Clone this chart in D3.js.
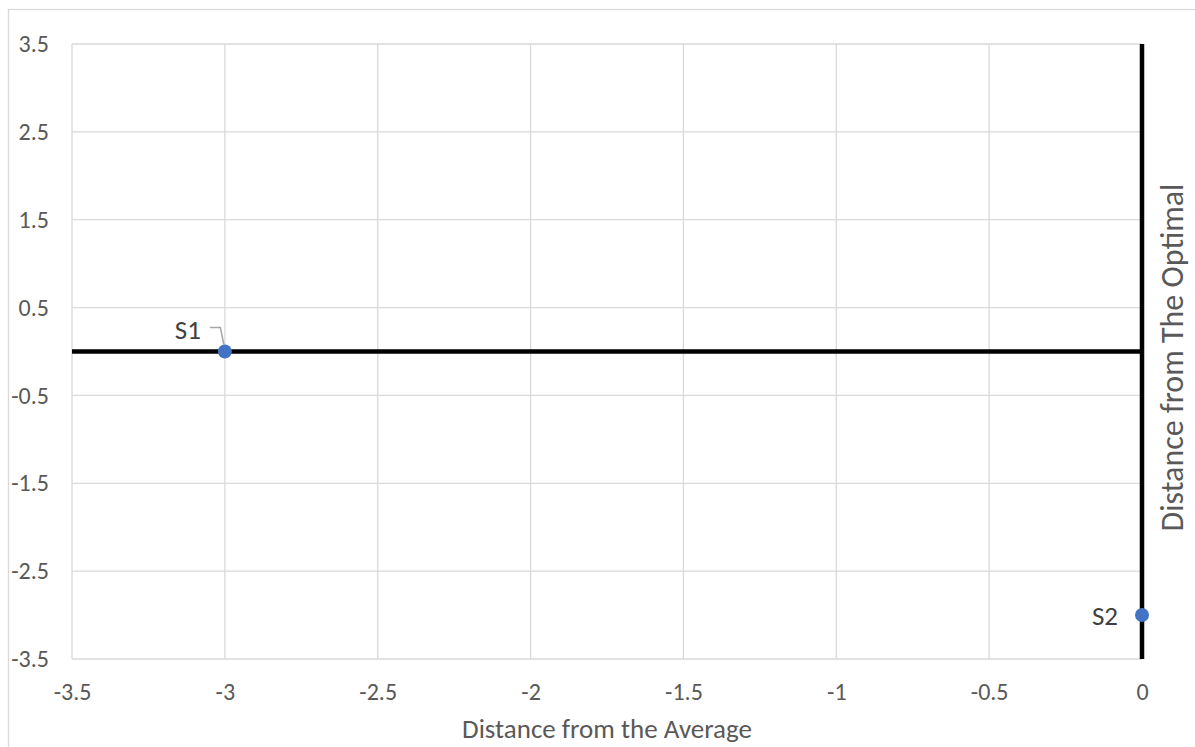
<!DOCTYPE html>
<html>
<head>
<meta charset="utf-8">
<script src="https://cdn.jsdelivr.net/npm/d3@7"></script>
<style>
  body { margin: 0; background: #fff; }
  svg { display: block; font-family: Calibri, Carlito, Lato, sans-serif; }
</style>
</head>
<body>
<div id="chart"></div>
<script>
// Data
const pointNames = ['S1', 'S2'];
const pointX = [-3, 0];
const pointY = [0, -3];
const xTicks = [-3.5, -3, -2.5, -2, -1.5, -1, -0.5, 0];
const yTicks = [-3.5, -2.5, -1.5, -0.5, 0.5, 1.5, 2.5, 3.5];
const xTitle = 'Distance from the Average';
const yTitle = 'Distance from The Optimal';

const width = 1195, height = 747;
const plot = { left: 72, right: 1142, top: 44, bottom: 659 };

const svg = d3.select('#chart')
  .append('svg')
  .attr('width', width)
  .attr('height', height);

// Chart frame (continues past the right/bottom edges)
svg.append('rect')
  .attr('x', 8.5).attr('y', 9.5)
  .attr('width', width + 10).attr('height', height + 10)
  .attr('fill', 'none')
  .attr('stroke', '#d9d9d9')
  .attr('stroke-width', 1.3);

const x = d3.scaleLinear().domain([-3.5, 0]).range([plot.left, plot.right]);
const y = d3.scaleLinear().domain([-3.5, 3.5]).range([plot.bottom, plot.top]);

// Gridlines
svg.append('g')
  .selectAll('line')
  .data(xTicks)
  .enter()
  .append('line')
  .attr('x1', d => x(d)).attr('x2', d => x(d))
  .attr('y1', plot.top).attr('y2', plot.bottom)
  .attr('stroke', '#d9d9d9')
  .attr('stroke-width', 1.3);

svg.append('g')
  .selectAll('line')
  .data(yTicks)
  .enter()
  .append('line')
  .attr('x1', plot.left).attr('x2', plot.right)
  .attr('y1', d => y(d)).attr('y2', d => y(d))
  .attr('stroke', '#d9d9d9')
  .attr('stroke-width', 1.3);

// Tick labels via axes
const fmt = d => String(d);

const xAxis = svg.append('g')
  .attr('transform', `translate(0, ${plot.bottom})`)
  .call(d3.axisBottom(x).tickValues(xTicks).tickFormat(fmt).tickSize(0).tickPadding(24));
xAxis.select('.domain').remove();
xAxis.selectAll('text')
  .attr('font-size', 24)
  .attr('font-family', 'Calibri, Carlito, Lato, sans-serif')
  .attr('fill', '#595959');

const yAxis = svg.append('g')
  .attr('transform', `translate(${plot.left}, 0)`)
  .call(d3.axisLeft(y).tickValues(yTicks).tickFormat(fmt).tickSize(0).tickPadding(23));
yAxis.select('.domain').remove();
yAxis.selectAll('text')
  .attr('font-size', 24)
  .attr('font-family', 'Calibri, Carlito, Lato, sans-serif')
  .attr('fill', '#595959');

// Black axis lines crossing at zero
svg.append('line')
  .attr('x1', plot.left).attr('x2', plot.right)
  .attr('y1', y(0)).attr('y2', y(0))
  .attr('stroke', '#000')
  .attr('stroke-width', 4.5);

svg.append('line')
  .attr('x1', x(0)).attr('x2', x(0))
  .attr('y1', plot.top).attr('y2', plot.bottom)
  .attr('stroke', '#000')
  .attr('stroke-width', 4.5);

// Points
const data = pointNames.map((name, i) => ({ name, x: pointX[i], y: pointY[i] }));

// Leader line for S1
const s1 = data[0];
svg.append('polyline')
  .attr('points', [
    [x(s1.x) - 15, y(s1.y) - 24],
    [x(s1.x) - 4.5, y(s1.y) - 24],
    [x(s1.x) - 1, y(s1.y) - 7]
  ].map(p => p.join(',')).join(' '))
  .attr('fill', 'none')
  .attr('stroke', '#a6a6a6')
  .attr('stroke-width', 1.5);

svg.append('g')
  .selectAll('circle')
  .data(data)
  .enter()
  .append('circle')
  .attr('cx', d => x(d.x))
  .attr('cy', d => y(d.y))
  .attr('r', 7)
  .attr('fill', '#4472c4');

// Point labels
svg.append('text')
  .attr('x', x(s1.x) - 24)
  .attr('y', y(s1.y) - 13)
  .attr('text-anchor', 'end')
  .attr('font-size', 27)
  .attr('fill', '#404040')
  .text(s1.name);

const s2 = data[1];
svg.append('text')
  .attr('x', x(s2.x) - 24)
  .attr('y', y(s2.y))
  .attr('dy', '0.35em')
  .attr('text-anchor', 'end')
  .attr('font-size', 27)
  .attr('fill', '#404040')
  .text(s2.name);

// Axis titles
svg.append('text')
  .attr('x', (plot.left + plot.right) / 2)
  .attr('y', 729)
  .attr('dy', '0.35em')
  .attr('text-anchor', 'middle')
  .attr('font-size', 27)
  .attr('fill', '#595959')
  .text(xTitle);

svg.append('text')
  .attr('transform', `translate(1172, ${(plot.top + plot.bottom) / 2 + 6}) rotate(-90)`)
  .attr('dy', '0.35em')
  .attr('text-anchor', 'middle')
  .attr('font-size', 32)
  .attr('font-weight', 300)
  .attr('fill', '#595959')
  .text(yTitle);
</script>
</body>
</html>
